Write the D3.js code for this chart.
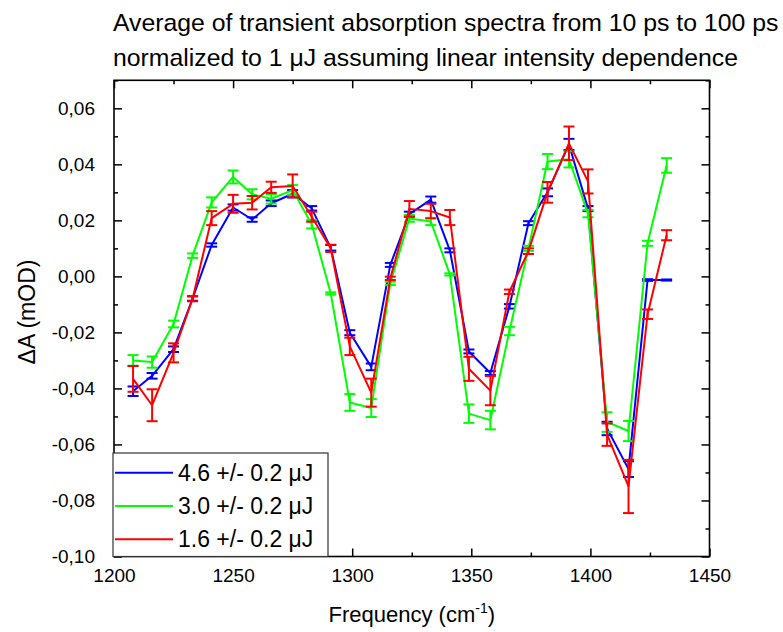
<!DOCTYPE html>
<html>
<head>
<meta charset="utf-8">
<script src="https://cdn.jsdelivr.net/npm/d3@7"></script>
<style>
  body { margin: 0; background: #fff; }
  svg text { font-family: "Liberation Sans", Arial, sans-serif; fill: #000; }
</style>
</head>
<body>
<div id="chart"></div>
<script>
// data
const freq = [1208, 1216, 1225, 1233, 1241, 1250, 1258, 1266, 1275, 1283, 1291, 1299, 1308, 1316,
              1324, 1333, 1341, 1349, 1358, 1366, 1374, 1382, 1391, 1399, 1407, 1416, 1424, 1432];

const blue = [-0.041, -0.0355, -0.026, -0.0079, 0.0112, 0.0246, 0.0203, 0.0261, 0.0295, 0.0243, 0.0102, -0.0201, -0.0323, 0.0041,
              0.0222, 0.0274, 0.0093, -0.0268, -0.0345, -0.0107, 0.019, 0.030, 0.0471, 0.0242, -0.0543, -0.0688, -0.0013, -0.0013];
const blueErr = [0.0017, 0.001, 0.001, 0.0008, 0.0006, 0.0011, 0.0008, 0.001, 0.0013, 0.0008, 0.001, 0.0009, 0.0012, 0.0007,
                 0.0009, 0.0011, 0.0007, 0.0007, 0.0007, 0.0008, 0.0007, 0.0014, 0.002, 0.0009, 0.0024, 0.0028, 0.0003, 0.0002];

const green = [-0.030, -0.0306, -0.017, 0.0074, 0.0264, 0.0355, 0.0293, 0.0277, 0.0308, 0.0186, -0.0061, -0.045, -0.047, -0.0025,
               0.0207, 0.0196, 0.0007, -0.049, -0.0513, -0.0195, 0.010, 0.041, 0.0418, 0.0224, -0.052, -0.0552, 0.0118, 0.0396];
const greenErr = [0.0019, 0.002, 0.0012, 0.0008, 0.0018, 0.0023, 0.0018, 0.0017, 0.0018, 0.0015, 0.0004, 0.003, 0.0032, 0.0006,
                  0.0012, 0.0013, 0.0004, 0.0033, 0.0033, 0.0015, 0.0009, 0.0027, 0.0029, 0.0013, 0.0035, 0.0036, 0.0009, 0.0026];

const red = [-0.0366, -0.046, -0.0273, -0.008, 0.0208, 0.0259, 0.0263, 0.0318, 0.0323, 0.0213, 0.0100, -0.025, -0.0415, -0.0007,
             0.0241, 0.0233, 0.021, -0.033, -0.0408, -0.0055, 0.009, 0.030, 0.0475, 0.0339, -0.0565, -0.075, -0.0135, 0.0147];
const redErr = [0.0046, 0.0057, 0.0034, 0.0009, 0.0025, 0.0032, 0.0024, 0.002, 0.0041, 0.0018, 0.0013, 0.0031, 0.005, 0.0006,
                0.0028, 0.0026, 0.0027, 0.0043, 0.0052, 0.0008, 0.001, 0.0037, 0.006, 0.0043, 0.004, 0.0095, 0.0017, 0.0018];

const seriesNames = ["4.6 +/- 0.2 \u03bcJ", "3.0 +/- 0.2 \u03bcJ", "1.6 +/- 0.2 \u03bcJ"];
const xTicks = [1200, 1250, 1300, 1350, 1400, 1450];
const yTicks = [-0.10, -0.08, -0.06, -0.04, -0.02, 0.00, 0.02, 0.04, 0.06];

const W = 783, H = 632;
const plotLeft = 114, plotRight = 709.5, plotTop = 80.3, plotBottom = 556.5;

const svg = d3.select("#chart").append("svg")
  .attr("width", W).attr("height", H);

const x = d3.scaleLinear().domain([1200, 1450]).range([plotLeft, plotRight]);
const y = d3.scaleLinear().domain([-0.10, 0.07]).range([plotBottom, plotTop]);

const fmtY = d => d3.format(".2f")(d).replace(".", ",").replace("\u2212", "-");

// minor ticks
const xMinor = d3.range(1225, 1450, 50);
const yMinor = d3.range(-0.09, 0.071, 0.02);

function tickGroup(axis, tx, ty) {
  const g = svg.append("g").attr("transform", `translate(${tx},${ty})`).call(axis);
  g.select(".domain").remove();
  g.selectAll("line").attr("stroke", "#000").attr("stroke-width", 1.5);
  return g;
}

// bottom
const gx = tickGroup(d3.axisBottom(x).tickValues(xTicks).tickSize(-8).tickPadding(12)
  .tickFormat(d3.format("d")), 0, plotBottom);
gx.selectAll("text").style("font-size", "19px");
tickGroup(d3.axisBottom(x).tickValues(xMinor).tickSize(-4).tickFormat(""), 0, plotBottom);
// top
tickGroup(d3.axisTop(x).tickValues(xTicks).tickSize(-8).tickFormat(""), 0, plotTop);
tickGroup(d3.axisTop(x).tickValues(xMinor).tickSize(-4).tickFormat(""), 0, plotTop);
// left
const gy = tickGroup(d3.axisLeft(y).tickValues(yTicks).tickSize(-8).tickPadding(19).tickFormat(fmtY), plotLeft, 0);
gy.selectAll("text").style("font-size", "19px");
tickGroup(d3.axisLeft(y).tickValues(yMinor).tickSize(-4).tickFormat(""), plotLeft, 0);
// right
tickGroup(d3.axisRight(y).tickValues(yTicks).tickSize(-8).tickFormat(""), plotRight, 0);
tickGroup(d3.axisRight(y).tickValues(yMinor).tickSize(-4).tickFormat(""), plotRight, 0);

// frame
svg.append("rect")
  .attr("x", plotLeft).attr("y", plotTop)
  .attr("width", plotRight - plotLeft).attr("height", plotBottom - plotTop)
  .attr("fill", "none").attr("stroke", "#000").attr("stroke-width", 1.6);

// series
const series = [
  { name: seriesNames[0], color: "#0000ff", vals: blue, errs: blueErr },
  { name: seriesNames[1], color: "#00ff00", vals: green, errs: greenErr },
  { name: seriesNames[2], color: "#ff0000", vals: red, errs: redErr }
];

const line = d3.line().x(d => x(d.f)).y(d => y(d.v));
const cap = 5.5;

series.forEach(s => {
  const pts = freq.map((f, i) => ({ f: f, v: s.vals[i], e: s.errs[i] }));
  const g = svg.append("g");
  g.append("path")
    .datum(pts)
    .attr("d", line)
    .attr("fill", "none")
    .attr("stroke", s.color)
    .attr("stroke-width", 2)
    .attr("stroke-linejoin", "round");

  const eb = g.selectAll("g.err").data(pts).enter().append("g")
    .attr("stroke", s.color).attr("stroke-width", 2);
  eb.append("line")
    .attr("x1", d => x(d.f)).attr("x2", d => x(d.f))
    .attr("y1", d => y(d.v + d.e)).attr("y2", d => y(d.v - d.e));
  eb.append("line")
    .attr("x1", d => x(d.f) - cap).attr("x2", d => x(d.f) + cap)
    .attr("y1", d => y(d.v + d.e)).attr("y2", d => y(d.v + d.e));
  eb.append("line")
    .attr("x1", d => x(d.f) - cap).attr("x2", d => x(d.f) + cap)
    .attr("y1", d => y(d.v - d.e)).attr("y2", d => y(d.v - d.e));
});

// legend
const lg = svg.append("g");
lg.append("rect")
  .attr("x", 113).attr("y", 453)
  .attr("width", 215).attr("height", plotBottom - 453)
  .attr("fill", "#fff").attr("stroke", "#333").attr("stroke-width", 1.2);
series.forEach((s, i) => {
  const ly = 472.7 + i * 33.3;
  lg.append("line")
    .attr("x1", 115).attr("x2", 173)
    .attr("y1", ly).attr("y2", ly)
    .attr("stroke", s.color).attr("stroke-width", 2);
  lg.append("text")
    .attr("x", 178).attr("y", ly + 8)
    .style("font-size", "23px")
    .text(s.name);
});

// title
const title = svg.append("text").style("font-size", "24.8px");
title.append("tspan").attr("x", 113).attr("y", 31)
  .text("Average of transient absorption spectra from 10 ps to 100 ps");
title.append("tspan").attr("x", 113).attr("y", 66)
  .text("normalized to 1 \u03bcJ assuming linear intensity dependence");

// axis titles
const xl = svg.append("text")
  .attr("x", (plotLeft + plotRight) / 2).attr("y", 622)
  .attr("text-anchor", "middle")
  .style("font-size", "22px");
xl.append("tspan").text("Frequency (cm");
xl.append("tspan").attr("dy", -9).style("font-size", "14px").text("-1");
xl.append("tspan").attr("dy", 9).text(")");

svg.append("text")
  .attr("transform", "translate(35,312) rotate(-90)")
  .attr("text-anchor", "middle")
  .style("font-size", "23px")
  .text("\u0394A (mOD)");
</script>
</body>
</html>
